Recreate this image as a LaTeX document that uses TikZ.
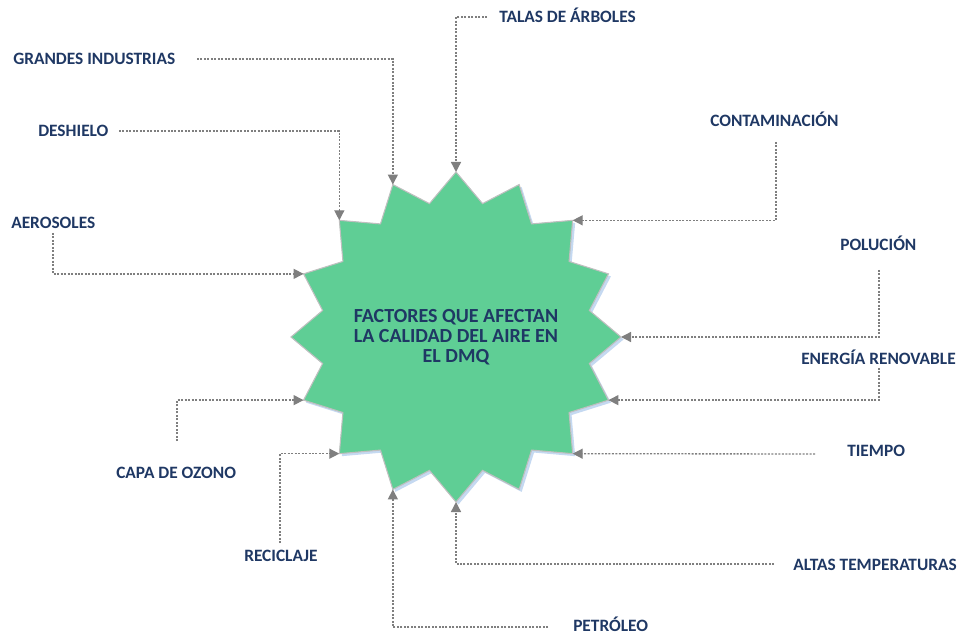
\documentclass[tikz,border=0pt]{standalone}
\usepackage{fontspec}
\setmainfont{Carlito}
\usetikzlibrary{arrows.meta,calc}
\definecolor{nnavy}{HTML}{1F3864}
\definecolor{ngreen}{HTML}{5FCE95}
\definecolor{ngray}{HTML}{7F7F7F}
\definecolor{nshadow}{HTML}{C5D9F1}
\definecolor{nedge}{HTML}{BFBFBF}
\tikzset{
 factor/.style={font=\bfseries\fontsize{13}{15}\selectfont, text=nnavy, inner sep=0pt, anchor=base west},
 link/.style={ngray, line width=1pt, dash pattern=on 1.5pt off 1.1pt, -{Triangle[length=7.5pt,width=7.5pt]}},
}

\begin{document}
\begin{tikzpicture}[x=0.75pt,y=-0.75pt]
 \useasboundingbox (0,0) rectangle (966,634);
 \coordinate (c) at (456,337);
 % shadow, then the star itself
 \begin{scope}[shift={(458.5,339.5)}]
  \fill[nshadow] (0:123.75pt) \foreach \i in {0,...,15} { -- ({\i*22.5+11.25}:102pt) -- ({\i*22.5+22.5}:123.75pt) } -- cycle;
 \end{scope}
 \begin{scope}[shift={(456,337)}]
  \filldraw[fill=ngreen, draw=nedge, line width=0.8pt] (0:123.75pt) \foreach \i in {0,...,15} { -- ({\i*22.5+11.25}:102pt) -- ({\i*22.5+22.5}:123.75pt) } -- cycle;
 \end{scope}
 \foreach \i in {0,...,15} \coordinate (tip\i) at ($(c)+({\i*22.5}:123.75pt)$);
 \node[font=\bfseries\fontsize{15}{15}\selectfont, text=nnavy, align=center, inner sep=0pt] (title) at (c) {FACTORES QUE AFECTAN\\LA CALIDAD DEL AIRE EN\\EL DMQ};

 % labels
 \node[factor] (talas) at (499,23) {TALAS DE ÁRBOLES};
 \node[factor] (grandes) at (13,65) {GRANDES INDUSTRIAS};
 \node[factor] (deshielo) at (38,137) {DESHIELO};
 \node[factor] (aerosoles) at (11,229) {AEROSOLES};
 \node[factor] (contam) at (710,127) {CONTAMINACIÓN};
 \node[factor] (polucion) at (840,251) {POLUCIÓN};
 \node[factor] (energia) at (801,364) {ENERGÍA RENOVABLE};
 \node[factor] (tiempo) at (847,456) {TIEMPO};
 \node[factor] (altas) at (793,570) {ALTAS TEMPERATURAS};
 \node[factor] (petroleo) at (573,631) {PETRÓLEO};
 \node[factor] (reciclaje) at (244,561) {RECICLAJE};
 \node[factor] (capa) at (116,478) {CAPA DE OZONO};

 % free ends of the connectors
 \coordinate (s-talas) at (487,17);
 \coordinate (s-grandes) at (197,59);
 \coordinate (s-deshielo) at (119,131);
 \coordinate (s-aerosoles) at (53,233);
 \coordinate (s-contam) at (776,142);
 \coordinate (s-polucion) at (879,270);
 \coordinate (s-energia) at (879,368);
 \coordinate (s-tiempo) at (815,454);
 \coordinate (s-altas) at (774,564);
 \coordinate (s-petroleo) at (548,627);
 \coordinate (s-reciclaje) at (280,543);
 \coordinate (s-capa) at (177,441);

 % connectors
 \draw[link] (s-talas) -| (tip4);
 \draw[link] (s-grandes) -| (tip5);
 \draw[link] (s-deshielo) -| (tip6);
 \draw[link] (s-aerosoles) |- (tip7);
 \draw[link] (s-contam) |- (tip2);
 \draw[link] (s-polucion) |- (tip0);
 \draw[link] (s-energia) |- (tip15);
 \draw[link] (s-tiempo) -- (tip14);
 \draw[link] (s-altas) -| (tip12);
 \draw[link] (s-petroleo) -| (tip11);
 \draw[link] (s-reciclaje) |- (tip10);
 \draw[link] (s-capa) |- (tip9);
\end{tikzpicture}
\end{document}
